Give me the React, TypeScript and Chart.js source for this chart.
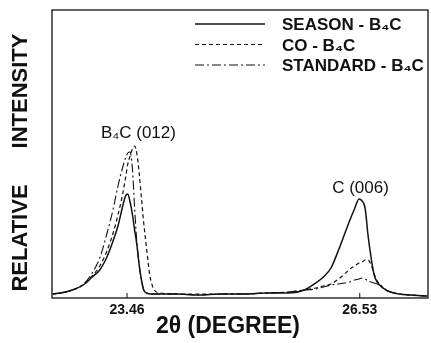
import React, { useEffect, useRef } from "react";
import { Chart, registerables } from "chart.js";

Chart.register(...registerables);

const XS = [22.48, 22.70, 22.90, 23.00, 23.10, 23.20, 23.28, 23.34, 23.40, 23.44, 23.47, 23.50, 23.53, 23.56, 23.59, 23.62, 23.65, 23.68, 23.72, 23.76, 23.82, 23.90, 24.10, 24.40, 24.70, 25.00, 25.30, 25.60, 25.80, 25.95, 26.05, 26.15, 26.25, 26.33, 26.40, 26.46, 26.52, 26.56, 26.60, 26.64, 26.68, 26.72, 26.76, 26.82, 26.90, 27.05, 27.20, 27.42];
const SEASON = [4, 7, 14, 21, 28, 42, 58, 72, 91, 102, 104, 96, 84, 68, 53, 33, 18, 8, 5, 4, 4, 4, 4, 3, 4, 4, 5, 5, 8, 15, 21, 30, 48, 64, 78, 89, 99, 97, 90, 62, 40, 23, 16, 11, 7, 4, 3, 2];
const CO = [4, 7, 14, 22, 32, 48, 66, 83, 103, 120, 134, 142, 149, 152, 144, 125, 100, 75, 48, 23, 8, 5, 4, 4, 4, 4, 5, 6, 8, 10, 12, 14, 19, 24, 29, 32, 35, 36, 38, 38, 33, 24, 17, 11, 7, 4, 3, 2];
const STANDARD = [4, 7, 15, 25, 40, 66, 90, 112, 130, 140, 145, 146, 130, 90, 55, 33, 18, 8, 5, 4, 4, 4, 4, 3, 4, 4, 5, 6, 8, 9, 11, 13, 14, 15, 16, 18, 19, 20, 19, 17, 16, 15, 14, 12, 7, 4, 3, 2];
const SERIES_LABELS = ["SEASON - B₄C", "CO - B₄C", "STANDARD - B₄C"];
const X_TICKS = [23.46, 26.53];
const PEAK_LABELS = [
  { text: "B₄C (012)", x: 23.61, y: 165 },
  { text: "C (006)", x: 26.54, y: 110 },
];

const FONT = '"Liberation Sans", Arial, Helvetica, sans-serif';
const INK = "#111";

const framePlugin = {
  id: "frameAndText",
  afterDraw(chart: any) {
    const { ctx, chartArea: a, scales } = chart;
    ctx.save();
    ctx.strokeStyle = INK;
    ctx.lineWidth = 1.3;
    ctx.strokeRect(a.left, a.top, a.right - a.left, a.bottom - a.top);
    ctx.lineWidth = 1;
    X_TICKS.forEach((v) => {
      const px = scales.x.getPixelForValue(v);
      ctx.beginPath();
      ctx.moveTo(px, a.bottom);
      ctx.lineTo(px, a.bottom - 5);
      ctx.stroke();
    });
    chart.data.datasets.forEach((ds: any, i: number) => {
      const y = 24 + i * 20.5;
      ctx.beginPath();
      ctx.setLineDash(ds.borderDash || []);
      ctx.lineWidth = ds.borderWidth;
      ctx.strokeStyle = ds.borderColor;
      ctx.moveTo(195, y);
      ctx.lineTo(265, y);
      ctx.stroke();
      ctx.setLineDash([]);
      ctx.fillStyle = INK;
      ctx.font = `bold 17px ${FONT}`;
      ctx.textAlign = "left";
      ctx.textBaseline = "middle";
      ctx.fillText(ds.label, 282, y + 1.5);
    });
    ctx.font = `17px ${FONT}`;
    ctx.textAlign = "center";
    ctx.textBaseline = "middle";
    PEAK_LABELS.forEach((p) => {
      ctx.fillText(p.text, scales.x.getPixelForValue(p.x), scales.y.getPixelForValue(p.y));
    });
    ctx.font = `bold 23px ${FONT}`;
    ctx.fillText("2θ (DEGREE)", 228, 327);
    ctx.font = `bold 22px ${FONT}`;
    ctx.translate(21, 0);
    ctx.rotate(-Math.PI / 2);
    ctx.fillText("RELATIVE", -238, 0);
    ctx.fillText("INTENSITY", -91, 0);
    ctx.restore();
  },
};

export default function App() {
  const ref = useRef<HTMLCanvasElement>(null);
  useEffect(() => {
    const mk = (vals: number[]) => XS.map((x, i) => ({ x, y: vals[i] }));
    const chart = new Chart(ref.current as HTMLCanvasElement, {
      type: "line",
      data: {
        datasets: [
          { label: SERIES_LABELS[0], data: mk(SEASON), borderColor: INK, borderWidth: 1.5, borderDash: [], pointRadius: 0, cubicInterpolationMode: "monotone" },
          { label: SERIES_LABELS[1], data: mk(CO), borderColor: INK, borderWidth: 1.2, borderDash: [4, 3], pointRadius: 0, cubicInterpolationMode: "monotone" },
          { label: SERIES_LABELS[2], data: mk(STANDARD), borderColor: INK, borderWidth: 1.1, borderDash: [9, 3, 2, 3], pointRadius: 0, cubicInterpolationMode: "monotone" },
        ] as any,
      },
      options: {
        animation: false,
        responsive: false,
        layout: { padding: { left: 0, top: 10, right: 3, bottom: 0 } },
        plugins: { legend: { display: false }, tooltip: { enabled: false } },
        scales: {
          x: {
            type: "linear",
            min: 22.47,
            max: 27.43,
            afterBuildTicks: (s: any) => {
              s.ticks = X_TICKS.map((v) => ({ value: v }));
            },
            afterFit: (s: any) => {
              s.height = 45;
            },
            grid: { display: false, drawTicks: false },
            border: { display: false },
            ticks: {
              padding: 4,
              color: INK,
              font: { family: FONT, size: 14, weight: "bold" },
              callback: (v: any) => Number(v).toFixed(2),
              maxRotation: 0,
              autoSkip: false,
            },
          },
          y: {
            min: 0,
            max: 288,
            afterFit: (s: any) => {
              s.width = 52;
            },
            grid: { display: false, drawTicks: false },
            border: { display: false },
            ticks: { display: false },
          },
        },
      },
      plugins: [framePlugin],
    });
    return () => chart.destroy();
  }, []);
  return (
    <div style={{ position: "fixed", left: 0, top: 0, width: 431, height: 343, background: "#fff" }}>
      <canvas ref={ref} width={431} height={343} />
    </div>
  );
}
